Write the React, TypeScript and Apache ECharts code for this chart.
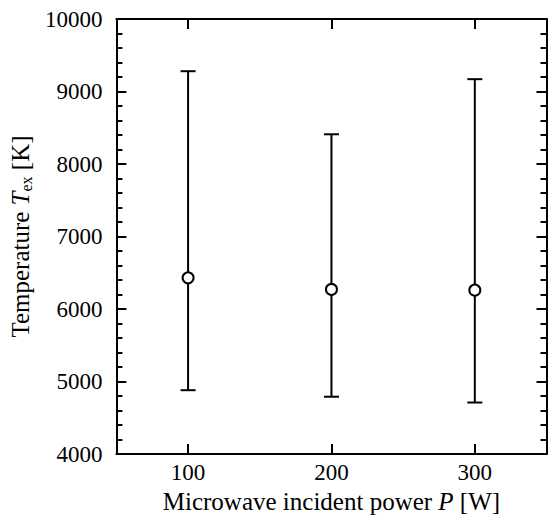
import React, { useEffect, useRef } from "react";
import * as echarts from "echarts";

// Measured excitation temperature at each incident power, with error-bar limits
const powers = [100, 200, 300];
const tempMean = [6430, 6270, 6260];
const tempUpper = [9280, 8410, 9170];
const tempLower = [4880, 4790, 4710];

const xTicks = [100, 200, 300];

const FONT = '"Liberation Serif", "Times New Roman", Times, serif';
const BLACK = "#000";

export default function App() {
  const ref = useRef<HTMLDivElement>(null);

  useEffect(() => {
    if (!ref.current) return;
    const chart = echarts.init(ref.current, null, { renderer: "svg" });

    const axisLine = { show: true, onZero: false, lineStyle: { color: BLACK, width: 2 } };
    const tickStyle = { color: BLACK, width: 2 };

    const errorData = powers.map((p, i) => [p, tempLower[i], tempUpper[i]]);
    const meanData = powers.map((p, i) => [p, tempMean[i]]);

    const xBase = {
      type: "value" as const,
      min: 50,
      max: 350,
      axisLine,
      splitLine: { show: false },
      axisTick: { show: true, inside: true, length: 10, customValues: xTicks, lineStyle: tickStyle },
    };

    const yBase = {
      type: "value" as const,
      min: 4000,
      max: 10000,
      interval: 1000,
      axisLine,
      splitLine: { show: false },
      minorSplitLine: { show: false },
      axisTick: { show: true, inside: true, length: 10, lineStyle: tickStyle },
      minorTick: { show: true, splitNumber: 5, length: 6, lineStyle: tickStyle },
    };

    chart.setOption({
      animation: false,
      backgroundColor: "#fff",
      grid: { left: 110.5, right: 1.5, top: 19, bottom: 63, containLabel: false },
      xAxis: [
        {
          ...xBase,
          position: "bottom",
          axisLabel: {
            customValues: xTicks,
            formatter: (v: number) => String(v),
            fontFamily: FONT,
            fontSize: 23,
            color: BLACK,
            margin: 7,
          },
          name: "Microwave incident power {i|P} [W]",
          nameLocation: "middle",
          nameGap: 35,
          nameTextStyle: {
            fontFamily: FONT,
            fontSize: 25,
            color: BLACK,
            rich: {
              i: { fontFamily: FONT, fontSize: 25, fontStyle: "italic", color: BLACK },
            },
          },
        },
        {
          ...xBase,
          position: "top",
          axisLabel: { show: false },
        },
      ],
      yAxis: [
        {
          ...yBase,
          position: "left",
          axisLabel: {
            formatter: (v: number) => String(v),
            fontFamily: FONT,
            fontSize: 23,
            color: BLACK,
            margin: 14,
          },
          name: "{n|Temperature }{i|T}{s|ex}{n| [K]}",
          nameLocation: "middle",
          nameGap: 73,
          nameTextStyle: {
            fontFamily: FONT,
            fontSize: 25,
            color: BLACK,
            rich: {
              n: { fontFamily: FONT, fontSize: 25, lineHeight: 27, color: BLACK },
              i: { fontFamily: FONT, fontSize: 25, lineHeight: 27, fontStyle: "italic", color: BLACK },
              s: { fontFamily: FONT, fontSize: 16, lineHeight: 16, verticalAlign: "bottom", color: BLACK },
            },
          },
        },
        {
          ...yBase,
          position: "right",
          axisLabel: { show: false },
        },
      ],
      series: [
        {
          type: "custom",
          z: 2,
          data: errorData,
          encode: { x: 0, y: [1, 2] },
          renderItem: (params: any, api: any) => {
            const x = api.value(0);
            const lo = api.coord([x, api.value(1)]);
            const hi = api.coord([x, api.value(2)]);
            const half = 7.5;
            const style = { stroke: BLACK, lineWidth: 2, fill: "none" };
            return {
              type: "group",
              children: [
                { type: "line", shape: { x1: hi[0], y1: hi[1], x2: lo[0], y2: lo[1] }, style },
                { type: "line", shape: { x1: hi[0] - half, y1: hi[1], x2: hi[0] + half, y2: hi[1] }, style },
                { type: "line", shape: { x1: lo[0] - half, y1: lo[1], x2: lo[0] + half, y2: lo[1] }, style },
              ],
            };
          },
        },
        {
          type: "scatter",
          z: 3,
          data: meanData,
          symbol: "circle",
          symbolSize: 11,
          itemStyle: { color: "#fff", borderColor: BLACK, borderWidth: 2, opacity: 1 },
        },
      ],
    });

    return () => chart.dispose();
  }, []);

  return (
    <div
      ref={ref}
      style={{ position: "fixed", left: 0, top: 0, width: 548, height: 519, background: "#fff" }}
    />
  );
}
